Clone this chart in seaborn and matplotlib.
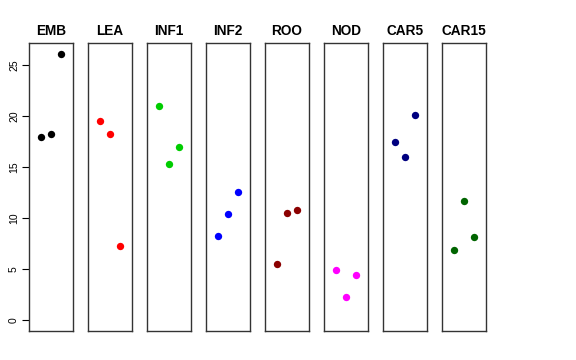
import matplotlib
matplotlib.use("Agg")
import matplotlib.pyplot as plt
import seaborn as sns
import pandas as pd

tissues = ["EMB", "LEA", "INF1", "INF2", "ROO", "NOD", "CAR5", "CAR15"]
colors = ["#000000", "#FF0000", "#00CD00", "#0000FF", "#8B0000", "#FF00FF", "#000080", "#006400"]
replicates = [1, 2, 3]
emb = [17.95, 18.28, 26.11]
lea = [19.49, 18.25, 7.28]
inf1 = [20.96, 15.34, 17.00]
inf2 = [8.29, 10.41, 12.54]
roo = [5.54, 10.47, 10.77]
nod = [4.93, 2.31, 4.44]
car5 = [17.49, 16.02, 20.11]
car15 = [6.86, 11.71, 8.16]
values = [emb, lea, inf1, inf2, roo, nod, car5, car15]
yticks = [0, 5, 10, 15, 20, 25]

rows = []
for t, vals in zip(tissues, values):
    for r, v in zip(replicates, vals):
        rows.append({"tissue": t, "rep": r, "value": v})
df = pd.DataFrame(rows)

sns.set_style("white")
plt.rcParams["font.family"] = ["Liberation Sans", "DejaVu Sans"]
plt.rcParams["text.color"] = "black"
plt.rcParams["ytick.color"] = "black"
plt.rcParams["ytick.labelcolor"] = "black"

fig = plt.figure(figsize=(5.76, 3.6), dpi=100)
W, H = 576, 360
left0, step, pw = 28.7, 59.0, 44.6
top, bottom = 43.0, 331.0

ymax = max(max(v) for v in values)
yr = ymax - 0
ylim = (0 - 0.04 * yr, ymax + 0.04 * yr)
xlim = (0 - 0.04 * 4, 4 + 0.04 * 4)

for i, t in enumerate(tissues):
    ax = fig.add_axes([(left0 + i * step) / W, 1 - bottom / H, pw / W, (bottom - top) / H])
    sub = df[df["tissue"] == t]
    sns.scatterplot(data=sub, x="rep", y="value", color=colors[i], s=28, linewidth=0, ax=ax, legend=False)
    ax.set_xlim(*xlim)
    ax.set_ylim(*ylim)
    ax.set_xlabel("")
    ax.set_ylabel("")
    ax.set_xticks([])
    for sp in ax.spines.values():
        sp.set_visible(True)
        sp.set_color("#333333")
        sp.set_linewidth(1.0)
    ax.set_title(t, fontsize=9.8, fontweight="bold", pad=6, color="black")
    if i == 0:
        ax.set_yticks(yticks)
        ax.tick_params(axis="y", left=True, length=5, width=0.8, color="#000000",
                       labelcolor="black", labelsize=7.5, pad=2)
        for lab in ax.get_yticklabels():
            lab.set_rotation(90)
            lab.set_va("center")
    else:
        ax.set_yticks([])

fig.savefig("out.png", dpi=100)
